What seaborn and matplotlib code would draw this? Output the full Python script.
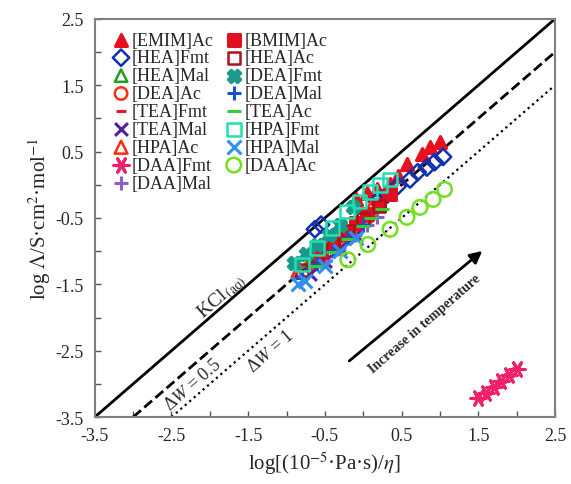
import numpy as np
import pandas as pd
import matplotlib
matplotlib.use("Agg")
import matplotlib.pyplot as plt
import seaborn as sns

# ---- data ----
emim_ac_x = [-0.10, 0.05, 0.18, 0.35, 0.45, 0.57, 0.76, 0.87, 1.00]
emim_ac_y = [-0.22, -0.12, -0.07, 0.01, 0.13, 0.31, 0.46, 0.57, 0.64]
bmim_ac_x = [-0.55, -0.40, -0.25, -0.10, 0.05, 0.20, 0.35]
bmim_ac_y = [-1.02, -0.88, -0.74, -0.58, -0.44, -0.30, -0.14]
hea_fmt_x = [-0.63, -0.55, 0.18, 0.31, 0.45, 0.61, 0.71, 0.83, 0.93, 1.04]
hea_fmt_y = [-0.67, -0.60, -0.25, -0.15, -0.02, 0.08, 0.19, 0.26, 0.34, 0.42]
hea_ac_x = [-0.80, -0.60, -0.40, -0.20, 0.00, 0.20]
hea_ac_y = [-1.28, -1.08, -0.90, -0.70, -0.52, -0.32]
hea_mal_x = [-0.85, -0.70, -0.55, -0.40, -0.25]
hea_mal_y = [-1.30, -1.16, -1.00, -0.86, -0.70]
dea_fmt_x = [-0.90, -0.75, -0.60, -0.45, -0.30, -0.14]
dea_fmt_y = [-1.18, -1.05, -0.90, -0.75, -0.60, -0.34]
dea_ac_x = [-0.75, -0.55, -0.35, -0.15, 0.05]
dea_ac_y = [-1.30, -1.10, -0.90, -0.70, -0.50]
dea_mal_x = [-0.80, -0.60, -0.40, -0.20, 0.00]
dea_mal_y = [-1.40, -1.20, -1.00, -0.80, -0.60]
tea_fmt_x = [-0.70, -0.50, -0.30, -0.10]
tea_fmt_y = [-1.20, -1.00, -0.80, -0.60]
tea_ac_x = [-0.60, -0.40, -0.20, 0.00, 0.10, 0.25]
tea_ac_y = [-1.22, -1.02, -0.82, -0.62, -0.50, -0.37]
tea_mal_x = [-0.70, -0.50, -0.30, -0.10]
tea_mal_y = [-1.35, -1.15, -0.95, -0.75]
hpa_fmt_x = [-0.80, -0.60, -0.40, -0.21, -0.05, 0.09, 0.22, 0.35]
hpa_fmt_y = [-1.20, -0.95, -0.65, -0.40, -0.25, -0.11, 0.00, 0.08]
hpa_ac_x = [-0.85, -0.65, -0.45, -0.25, -0.05, 0.10]
hpa_ac_y = [-1.30, -1.10, -0.90, -0.70, -0.50, -0.35]
hpa_mal_x = [-0.85, -0.76, -0.50, -0.30, -0.10]
hpa_mal_y = [-1.50, -1.45, -1.23, -1.00, -0.80]
daa_fmt_x = [1.50, 1.60, 1.70, 1.80, 1.90, 2.00]
daa_fmt_y = [-3.22, -3.13, -3.04, -2.95, -2.86, -2.77]
daa_ac_x = [-0.20, 0.06, 0.35, 0.57, 0.74, 0.91, 1.06]
daa_ac_y = [-1.13, -0.90, -0.67, -0.49, -0.34, -0.22, -0.07]
daa_mal_x = [-0.50, -0.31, -0.11, 0.05, 0.18]
daa_mal_y = [-1.15, -0.97, -0.75, -0.60, -0.49]

# reference lines: y = x - offset, drawn from x_start to 2.5
ref_offsets = [0.0, 0.5, 1.0]
ref_starts = [-3.5, -3.0, -2.5]
ref_styles = ["-", "--", ":"]
ref_widths = [2.0, 2.0, 1.6]

# (label, x, y, marker, color, open, size)
series = [
    ("[EMIM]Ac", emim_ac_x, emim_ac_y, "^", "#e8101e", False, 75),
    ("[HEA]Fmt", hea_fmt_x, hea_fmt_y, "D", "#1230b0", True, 70),
    ("[HEA]Mal", hea_mal_x, hea_mal_y, "^", "#20a020", True, 80),
    ("[DEA]Ac", dea_ac_x, dea_ac_y, "o", "#ff3010", True, 80),
    ("[TEA]Fmt", tea_fmt_x, tea_fmt_y, "_", "#e81828", False, 60),
    ("[TEA]Mal", tea_mal_x, tea_mal_y, "x", "#5020a0", False, 85),
    ("[HPA]Ac", hpa_ac_x, hpa_ac_y, "^", "#ff2a10", True, 85),
    ("[DAA]Fmt", daa_fmt_x, daa_fmt_y, (6, 2, 90), "#f0206a", False, 120),
    ("[DAA]Mal", daa_mal_x, daa_mal_y, "+", "#8a60d0", False, 90),
    ("[BMIM]Ac", bmim_ac_x, bmim_ac_y, "s", "#e01020", False, 65),
    ("[HEA]Ac", hea_ac_x, hea_ac_y, "s", "#b01018", True, 75),
    ("[DEA]Fmt", dea_fmt_x, dea_fmt_y, "X", "#1a9a8a", False, 80),
    ("[DEA]Mal", dea_mal_x, dea_mal_y, "+", "#1a4fd0", False, 90),
    ("[TEA]Ac", tea_ac_x, tea_ac_y, "_", "#30d030", False, 110),
    ("[HPA]Fmt", hpa_fmt_x, hpa_fmt_y, "s", "#20e0b0", True, 95),
    ("[HPA]Mal", hpa_mal_x, hpa_mal_y, "x", "#3090f0", False, 100),
    ("[DAA]Ac", daa_ac_x, daa_ac_y, "o", "#70e020", True, 110),
]

sns.set_style("ticks")
plt.rcParams["font.family"] = ["Liberation Serif", "DejaVu Serif"]
plt.rcParams["mathtext.fontset"] = "stix"

fig = plt.figure(figsize=(5.71, 4.85), dpi=100)
ax = fig.add_axes([0.166, 0.138, 0.806, 0.821])

for off, x0, ls, lw in zip(ref_offsets, ref_starts, ref_styles, ref_widths):
    lx = np.array([x0, 2.5])
    ax.plot(lx, lx - off, ls=ls, lw=lw, color="black", zorder=1)

for label, x, y, mk, col, hollow, sz in series:
    df = pd.DataFrame({"x": x, "y": y})
    if hollow:
        sns.scatterplot(data=df, x="x", y="y", marker=mk, s=sz, ax=ax,
                        facecolors="none", edgecolor=col, linewidth=1.8,
                        label=label, zorder=3)
    else:
        sns.scatterplot(data=df, x="x", y="y", marker=mk, s=sz, ax=ax,
                        color=col, edgecolor=col, linewidth=2.2,
                        label=label, zorder=3)

ax.set_xlim(-3.5, 2.5)
ax.set_ylim(-3.5, 2.5)
ticks = np.arange(-3.5, 2.51, 1.0)
ax.set_xticks(ticks)
ax.set_yticks(ticks)
ax.set_xticks(np.arange(-3.0, 2.5, 1.0), minor=True)
ax.set_yticks(np.arange(-3.0, 2.5, 1.0), minor=True)
ax.set_xticklabels([f"{t:.1f}" for t in ticks])
ax.set_yticklabels([f"{t:.1f}" for t in ticks])
ax.tick_params(which="both", direction="in", length=4, width=1,
               labelsize=13, color="#555555")
ax.tick_params(axis="x", pad=7)
ax.tick_params(axis="y", pad=8)
for sp in ax.spines.values():
    sp.set_color("#808080")
    sp.set_linewidth(1.5)

ax.set_xlabel(r"log[(10$^{-5}$·Pa·s)/$\mathit{\eta}$]", fontsize=15, labelpad=4)
ax.set_ylabel(r"log $\mathit{\Lambda}$/S·cm$^{2}$·mol$^{-1}$", fontsize=15, labelpad=2)

ax.text(-1.84, -1.68, r"KCl$_{\,\mathrm{(aq)}}$", rotation=41, fontsize=14,
        ha="center", va="center")
ax.text(-2.22, -3.01, r"Δ$\mathit{W}$ = 0.5", rotation=41, fontsize=13,
        ha="center", va="center")
ax.text(-1.21, -2.50, r"Δ$\mathit{W}$ = 1", rotation=41, fontsize=13,
        ha="center", va="center")

ax.annotate("", xy=(1.58, -0.97), xytext=(-0.21, -2.68),
            arrowprops=dict(arrowstyle="-|>", color="black", lw=2,
                            mutation_scale=18))
ax.text(0.80, -2.08, "Increase in temperature", rotation=41, fontsize=10,
        fontweight="bold", ha="center", va="center")

ax.legend(ncol=2, loc="upper left", frameon=False, fontsize=13,
          handletextpad=0.1, labelspacing=0.05, columnspacing=0.6,
          handlelength=1.0, borderaxespad=0.3, bbox_to_anchor=(0.01, 1.0))

fig.savefig("out.png", dpi=100)
